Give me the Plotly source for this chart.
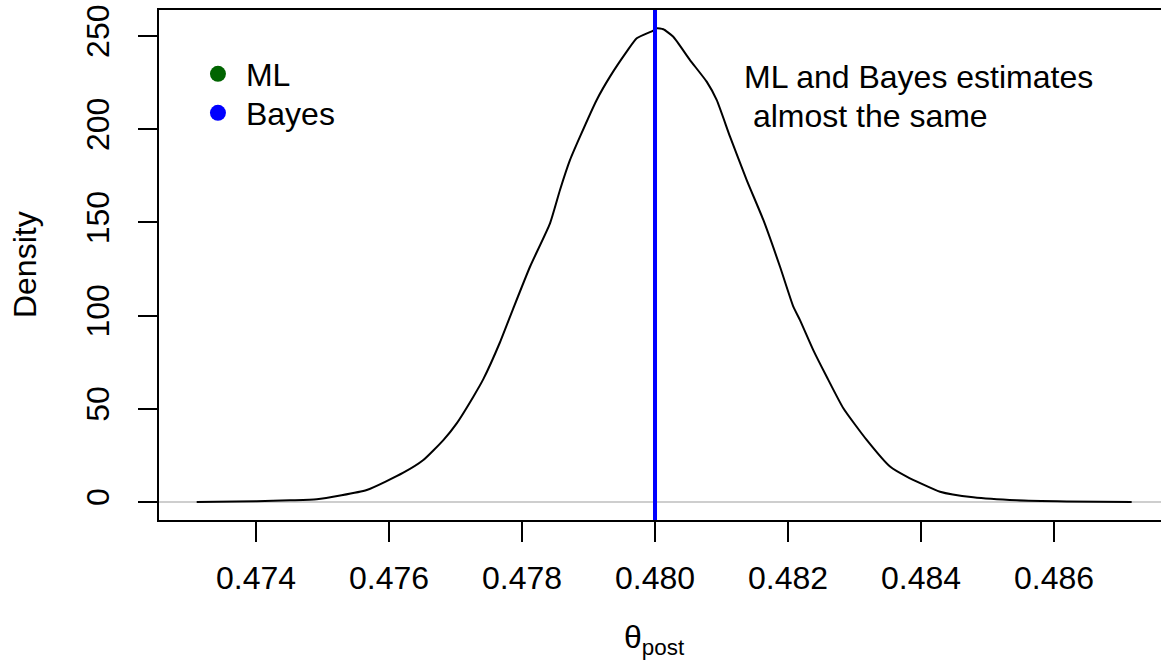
import plotly.graph_objects as go

# Posterior density of theta
theta = [0.473108, 0.474010, 0.474511, 0.474913, 0.475665, 0.476215, 0.476516, 0.476817,
         0.477018, 0.477268, 0.477418, 0.477669, 0.477869, 0.478120, 0.478421, 0.478571,
         0.478722, 0.478872, 0.479123, 0.479323, 0.479574, 0.479725, 0.479974, 0.480026,
         0.480125, 0.480275, 0.480526, 0.480777, 0.480927, 0.481128, 0.481379, 0.481629,
         0.481880, 0.482080, 0.482180, 0.482380, 0.482582, 0.482832, 0.483183, 0.483534,
         0.483785, 0.484286, 0.484786, 0.485439, 0.486191, 0.487168]
density = [0.0, 0.4, 0.9, 1.45, 6.4, 15.7, 22.5, 33.2,
           42.2, 56.5, 65.9, 85.7, 103.9, 126.2, 149.5, 167.4,
           183.5, 196.0, 215.7, 228.2, 241.6, 248.8, 252.9, 254.1,
           253.6, 249.6, 237.1, 225.5, 215.7, 196.0, 172.7, 151.3,
           126.2, 104.8, 97.6, 81.5, 67.2, 50.3, 33.3, 19.0,
           13.6, 5.5, 2.5, 0.9, 0.3, 0.0]

ml_est = 0.48
bayes_est = 0.48

x_ticks = [0.474, 0.476, 0.478, 0.480, 0.482, 0.484, 0.486]
x_ticklabels = ["0.474", "0.476", "0.478", "0.480", "0.482", "0.484", "0.486"]
y_ticks = [0, 50, 100, 150, 200, 250]
y_ticklabels = ["0", "50", "100", "150", "200", "250"]

legend_labels = ["ML", "Bayes"]
legend_colors = ["#006400", "#0000FF"]
note_lines = ["ML and Bayes estimates", "\u00a0almost the same"]

FONT = "Liberation Sans, Arial, Helvetica, sans-serif"
FS = 32

fig = go.Figure()

fig.add_trace(go.Scatter(x=theta, y=density, mode="lines",
                         line=dict(color="black", width=2, shape="spline", smoothing=0.5),
                         showlegend=False, hoverinfo="skip"))

legend_ids = ["legend", "legend2"]
for lab, col, lid in zip(legend_labels, legend_colors, legend_ids):
    fig.add_trace(go.Scatter(x=[None], y=[None], mode="markers", name=lab, legend=lid,
                             marker=dict(color=col, size=17, symbol="circle")))

# reference line at zero
fig.add_shape(type="line", xref="paper", x0=0, x1=1, yref="y", y0=0, y1=0,
              line=dict(color="#BEBEBE", width=1.5), layer="below")
# ML (green) and Bayes (blue) estimates
fig.add_shape(type="line", xref="x", x0=ml_est, x1=ml_est, yref="paper", y0=0, y1=1,
              line=dict(color=legend_colors[0], width=4))
fig.add_shape(type="line", xref="x", x0=bayes_est, x1=bayes_est, yref="paper", y0=0, y1=1,
              line=dict(color=legend_colors[1], width=4))

fig.add_annotation(x=0.481308, y=228.0, xref="x", yref="y", text=note_lines[0],
                   showarrow=False, xanchor="left", yanchor="middle",
                   font=dict(family=FONT, size=FS, color="black"))
fig.add_annotation(x=0.481308, y=207.1, xref="x", yref="y", text=note_lines[1],
                   showarrow=False, xanchor="left", yanchor="middle",
                   font=dict(family=FONT, size=FS, color="black"))

fig.add_annotation(x=0.495, y=-0.235, xref="paper", yref="paper",
                   text="θ<sub>post</sub>", showarrow=False,
                   xanchor="center", yanchor="middle",
                   font=dict(family=FONT, size=FS, color="black"))
fig.add_annotation(x=-0.1337, y=0.5, xref="paper", yref="paper",
                   text="Density", showarrow=False, textangle=-90,
                   xanchor="center", yanchor="middle",
                   font=dict(family=FONT, size=FS, color="black"))

leg_common = dict(xanchor="left", yanchor="middle", bgcolor="rgba(0,0,0,0)",
                  itemwidth=46, font=dict(family=FONT, size=FS, color="black"))

fig.update_layout(
    width=1161, height=668,
    margin=dict(l=159, r=0, t=10, b=148, autoexpand=False),
    paper_bgcolor="white", plot_bgcolor="white",
    font=dict(family=FONT, size=FS, color="black"),
    legend=dict(x=0.0309, y=0.8745, **leg_common),
    legend2=dict(x=0.0309, y=0.798, **leg_common),
    xaxis=dict(range=[0.472541, 0.487609], tickvals=x_ticks, ticktext=x_ticklabels,
               ticks="outside", ticklen=20, tickwidth=2, tickcolor="black",
               showline=True, linewidth=2, linecolor="black", mirror=True,
               showgrid=False, zeroline=False, ticklabelstandoff=9, automargin=False,
               ticklabeloverflow="allow",
               tickfont=dict(family=FONT, size=FS, color="black")),
    yaxis=dict(range=[-9.66, 263.95], tickvals=y_ticks, ticktext=y_ticklabels,
               tickangle=-90, ticks="outside", ticklen=19, tickwidth=2, tickcolor="black",
               showline=True, linewidth=2, linecolor="black", mirror=False,
               showgrid=False, zeroline=False, ticklabelstandoff=16, automargin=False,
               ticklabeloverflow="allow",
               tickfont=dict(family=FONT, size=FS, color="black")),
)

# remove the page's default body margin so the figure sits at the window's top-left corner
fig.write_html("out.html",
               config={"displayModeBar": False},
               post_script="document.body.style.margin='0';document.body.style.overflow='hidden';")
